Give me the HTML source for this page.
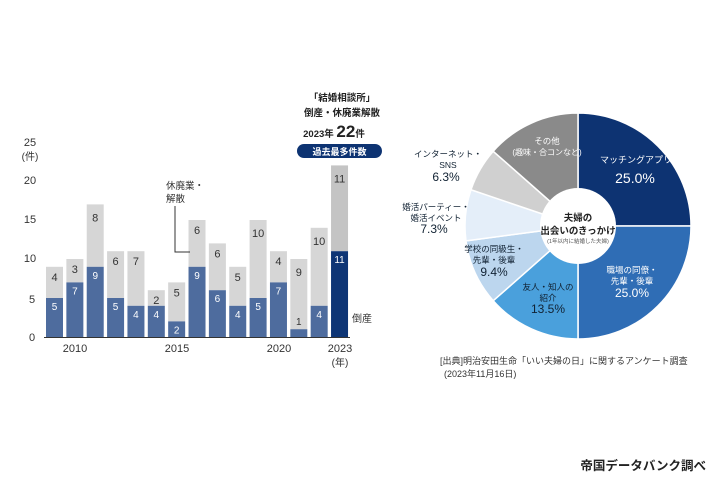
<!DOCTYPE html><html><head><meta charset="utf-8"><style>
body{margin:0;background:#fff;width:714px;height:476px;overflow:hidden;font-family:"Liberation Sans","Noto Sans CJK JP",sans-serif}
text{font-family:"Liberation Sans","Noto Sans CJK JP",sans-serif}
</style></head><body>
<svg id="s" width="714" height="476" viewBox="0 0 714 476" xmlns="http://www.w3.org/2000/svg">
<g font-size="11" fill="#333" text-anchor="middle">
<text x="30" y="146">25</text><text x="30" y="160" font-size="10">(件)</text>
<text x="30" y="184">20</text><text x="30" y="223">15</text><text x="30" y="262">10</text>
<text x="32" y="303">5</text><text x="32" y="341">0</text>
</g>
<g id="bars"></g>
<line x1="44" y1="337.5" x2="350" y2="337.5" stroke="#333" stroke-width="1"/>
<g font-size="11" fill="#333" text-anchor="middle">
<text x="75" y="352">2010</text><text x="177" y="352">2015</text><text x="279" y="352">2020</text>
<text x="340" y="352">2023</text><text x="340" y="366" font-size="10">(年)</text>
</g>
<text x="352" y="322" font-size="10" fill="#333">倒産</text>
<text x="166" y="189" font-size="9.5" fill="#333">休廃業・</text>
<text x="166" y="202" font-size="9.5" fill="#333">解散</text>
<polyline points="175,206 175,252 190,252" fill="none" stroke="#333" stroke-width="1"/>
<g text-anchor="middle" fill="#222" font-weight="bold">
<text x="342" y="101" font-size="9.5">「結婚相談所」</text>
<text x="342" y="116" font-size="9.5">倒産・休廃業解散</text>
<text x="334" y="137" font-size="9.5">2023年 <tspan font-size="17">22</tspan>件</text>
</g>
<rect x="297" y="144" width="85" height="14" rx="7" fill="#0d3372"/>
<text x="339.5" y="155" font-size="9" fill="#fff" text-anchor="middle" font-weight="bold">過去最多件数</text>
<g id="pie"></g>
<circle cx="578" cy="226" r="38" fill="#fff"/>
<g text-anchor="middle">
<text x="578" y="221" font-size="9.5" font-weight="bold" fill="#222">夫婦の</text>
<text x="578" y="234" font-size="9.5" font-weight="bold" fill="#222">出会いのきっかけ</text>
<text x="578" y="243" font-size="5.5" fill="#555">(1年以内に結婚した夫婦)</text>
<text x="636" y="163" font-size="9" fill="#fff">マッチングアプリ</text>
<text x="635" y="183" font-size="14" fill="#fff">25.0%</text>
<text x="632" y="273" font-size="8.5" fill="#fff">職場の同僚・</text>
<text x="632" y="284" font-size="8.5" fill="#fff">先輩・後輩</text>
<text x="632" y="297" font-size="12" fill="#fff">25.0%</text>
<text x="548" y="290" font-size="8.5" fill="#123">友人・知人の</text>
<text x="548" y="301" font-size="8.5" fill="#123">紹介</text>
<text x="548" y="313" font-size="12" fill="#123">13.5%</text>
<text x="494" y="252" font-size="8.5" fill="#123">学校の同級生・</text>
<text x="494" y="263" font-size="8.5" fill="#123">先輩・後輩</text>
<text x="494" y="276" font-size="12" fill="#123">9.4%</text>
<text x="436" y="210" font-size="8.5" fill="#123">婚活パーティー・</text>
<text x="436" y="221" font-size="8.5" fill="#123">婚活イベント</text>
<text x="434" y="233" font-size="12" fill="#123">7.3%</text>
<text x="448" y="157" font-size="8.5" fill="#123">インターネット・</text>
<text x="448" y="168" font-size="8.5" fill="#123">SNS</text>
<text x="446" y="181" font-size="12" fill="#123">6.3%</text>
<text x="547" y="144" font-size="8.5" fill="#fff">その他</text>
<text x="547" y="155" font-size="8" fill="#fff">(趣味・合コンなど)</text>
</g>
<text x="440" y="364" font-size="9" fill="#333">[出典]明治安田生命「いい夫婦の日」に関するアンケート調査</text>
<text x="444" y="377" font-size="9" fill="#333">(2023年11月16日)</text>
<text x="706" y="470" font-size="12.5" font-weight="bold" fill="#222" text-anchor="end">帝国データバンク調べ</text>
</svg>
<script>
var NS="http://www.w3.org/2000/svg";
function el(t,a,p){var e=document.createElementNS(NS,t);for(var k in a)e.setAttribute(k,a[k]);p.appendChild(e);return e;}
var b=[5,7,9,5,4,4,2,9,6,4,5,7,1,4,11],o=[4,3,8,6,7,2,5,6,6,5,10,4,9,10,11];
var g=document.getElementById('bars'),u=7.8,base=337;
for(var i=0;i<15;i++){var x=46+i*20.36,w=17,last=i==14;
var hb=b[i]*u,ho=o[i]*u;
el('rect',{x:x,y:base-hb-ho,width:w,height:ho,fill:last?'#c4c4c4':'#d6d6d6'},g);
el('rect',{x:x,y:base-hb,width:w,height:hb,fill:last?'#0e3575':'#4e6c9e'},g);
var t=el('text',{x:x+w/2,y:base-hb+12,'font-size':10,fill:'#fff','text-anchor':'middle'},g);t.textContent=b[i];
if(b[i]<2){t.setAttribute('y',base-hb-4);t.setAttribute('fill','#333');}
var t2=el('text',{x:x+w/2,y:base-hb-ho+14,'font-size':11,fill:'#333','text-anchor':'middle'},g);t2.textContent=o[i];
if(o[i]>=8||last)t2.setAttribute('y',base-hb-ho+17);}
var p=document.getElementById('pie'),cx=578,cy=226,R=113;
var v=[25,25,13.5,9.4,7.3,6.3,13.5],c=['#0d3372','#2f6db5','#4aa0dc','#bcd6ee','#e4eef9','#d0d0d0','#8a8a8a'],a=0;
for(var j=0;j<7;j++){var a0=a*3.6*Math.PI/180;a+=v[j];var a1=a*3.6*Math.PI/180;
var x0=cx+R*Math.sin(a0),y0=cy-R*Math.cos(a0),x1=cx+R*Math.sin(a1),y1=cy-R*Math.cos(a1);
el('path',{d:'M'+cx+','+cy+'L'+x0+','+y0+'A'+R+','+R+' 0 '+((a1-a0)>Math.PI?1:0)+' 1 '+x1+','+y1+'Z',fill:c[j],stroke:'#fff','stroke-width':1.5},p);}
</script>
</body></html>
